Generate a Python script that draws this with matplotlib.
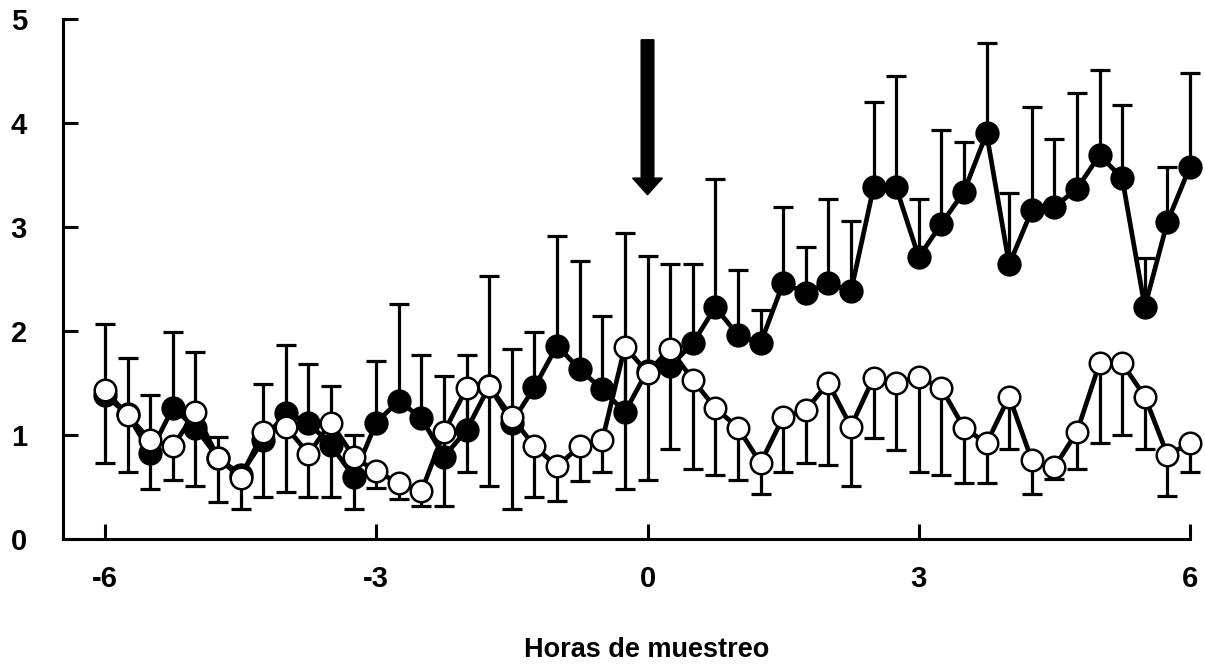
import matplotlib
matplotlib.use("Agg")
import matplotlib.pyplot as plt
import numpy as np

plt.rcParams['font.family'] = ['Liberation Sans', 'DejaVu Sans']
plt.rcParams['font.weight'] = 'bold'

# Sampling times (hours), every 15 min from -6 to 6
hours = np.arange(-6, 6.001, 0.25)

# Filled-circle series: mean and upper error-bar end
filled_mean = [1.38, 1.20, 0.83, 1.26, 1.07, 0.78, 0.62, 0.95, 1.21, 1.12,
               0.90, 0.60, 1.12, 1.33, 1.16, 0.79, 1.05, 1.47, 1.12, 1.46,
               1.86, 1.63, 1.44, 1.22, 1.62, 1.66, 1.88, 2.23, 1.96, 1.88,
               2.46, 2.37, 2.46, 2.38, 3.38, 3.38, 2.71, 3.03, 3.34, 3.90,
               2.64, 3.16, 3.19, 3.37, 3.69, 3.47, 2.23, 3.05, 3.58]
filled_top = [2.07, 1.74, 1.38, 1.99, 1.80, 0.98, 0.62, 1.49, 1.87, 1.68,
              1.47, 1.00, 1.71, 2.26, 1.77, 1.57, 1.77, 2.53, 1.83, 1.99,
              2.91, 2.67, 2.14, 2.94, 2.72, 2.64, 2.64, 3.46, 2.59, 2.20,
              3.19, 2.81, 3.27, 3.06, 4.20, 4.45, 3.27, 3.93, 3.82, 4.77,
              3.33, 4.15, 3.85, 4.29, 4.51, 4.17, 2.70, 3.58, 4.48]

# Open-circle series: mean and lower error-bar end
open_mean = [1.43, 1.19, 0.95, 0.89, 1.22, 0.78, 0.59, 1.03, 1.08, 0.82,
             1.12, 0.79, 0.65, 0.54, 0.46, 1.03, 1.45, 1.47, 1.17, 0.89,
             0.70, 0.89, 0.95, 1.85, 1.60, 1.83, 1.53, 1.26, 1.07, 0.73,
             1.17, 1.24, 1.50, 1.08, 1.55, 1.50, 1.56, 1.45, 1.07, 0.92,
             1.37, 0.76, 0.69, 1.03, 1.69, 1.69, 1.37, 0.81, 0.92]
open_bottom = [0.73, 0.64, 0.48, 0.57, 0.51, 0.36, 0.29, 0.40, 0.45, 0.40,
               0.40, 0.29, 0.49, 0.38, 0.32, 0.32, 0.64, 0.51, 0.29, 0.40,
               0.37, 0.56, 0.64, 0.48, 0.57, 0.87, 0.67, 0.62, 0.57, 0.43,
               0.64, 0.73, 0.71, 0.51, 0.97, 0.86, 0.64, 0.62, 0.54, 0.54,
               0.87, 0.43, 0.58, 0.67, 0.92, 1.00, 0.87, 0.41, 0.64]

x_ticks = [-6, -3, 0, 3, 6]
x_ticklabels = ['-6', '-3', '0', '3', '6']
y_ticks = [0, 1, 2, 3, 4, 5]
x_label = 'Horas de muestreo'

fm = np.array(filled_mean)
ft = np.array(filled_top)
om = np.array(open_mean)
ob = np.array(open_bottom)

fig = plt.figure(figsize=(12.05, 6.64), dpi=100)
ax = fig.add_axes([63 / 1205, 1 - 539 / 664, (1190 - 63) / 1205, (539 - 19) / 664])

ax.set_xlim(-6 - 42 / 90.4, 6)
ax.set_ylim(0, 5)

# Filled series
ax.errorbar(hours, fm, yerr=[np.zeros_like(fm), ft - fm], fmt='none',
            ecolor='black', elinewidth=2.3, capsize=7, capthick=2.3,
            zorder=2, clip_on=False)
ax.plot(hours, fm, '-o', color='black', lw=3.4, ms=16, mfc='black',
        mec='black', mew=1.5, zorder=3, clip_on=False)

# Open series
ax.errorbar(hours, om, yerr=[om - ob, np.zeros_like(om)], fmt='none',
            ecolor='black', elinewidth=2.3, capsize=7, capthick=2.3,
            zorder=4, clip_on=False)
ax.plot(hours, om, '-o', color='black', lw=3.4, ms=15.5, mfc='white',
        mec='black', mew=1.8, zorder=5, clip_on=False)

# Arrow marking time 0
ax.arrow(0, 4.8, 0, -(4.8 - 3.31), width=0.14, head_width=0.33,
         head_length=0.16, length_includes_head=True, color='black',
         zorder=6)

for s in ['top', 'right']:
    ax.spines[s].set_visible(False)
for s in ['left', 'bottom']:
    ax.spines[s].set_linewidth(2.2)

ax.set_xticks(x_ticks)
ax.set_xticklabels(x_ticklabels)
ax.set_yticks(y_ticks)
ax.tick_params(axis='x', direction='in', length=11, width=2.2, pad=19,
               labelsize=21)
ax.tick_params(axis='y', direction='in', length=11, width=2.2, pad=26,
               labelsize=21)
for lab in ax.get_xticklabels() + ax.get_yticklabels():
    lab.set_fontweight('bold')

fig.text(647 / 1205, 1 - 650 / 664, x_label, ha='center', va='center',
         fontsize=19.5, fontweight='bold')

fig.savefig('out.png', dpi=100)
